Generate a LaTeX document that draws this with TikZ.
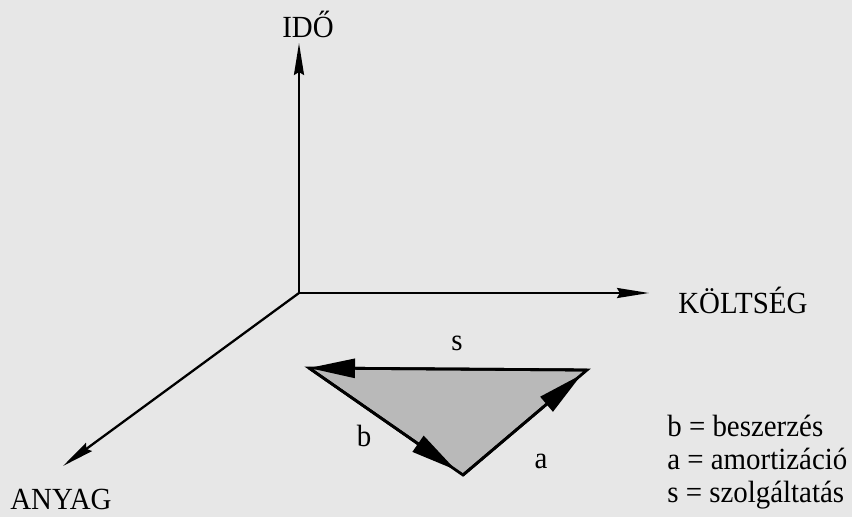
\documentclass[tikz,border=0pt]{standalone}
\usepackage{fontspec}
\setmainfont{Liberation Serif}[FakeStretch=0.94]
\usetikzlibrary{arrows.meta,positioning}
\definecolor{paper}{RGB}{231,231,231}
\definecolor{dotshade}{RGB}{185,185,185}
\tikzset{
  axisline/.style={line width=1.3pt,-{Stealth[length=0.64cm,width=0.2cm,inset=0.06cm]}},
  edgeline/.style={line width=1.6pt,line join=miter},
  edgearrow/.style={line width=1.6pt,-{Triangle[length=0.92cm,width=0.38cm]}},
  axislabel/.style={font=\fontsize{17.5}{21}\selectfont,inner sep=0pt},
  edgelabel/.style={font=\fontsize{17.5}{21}\selectfont,inner sep=0pt},
  legendline/.style={font=\fontsize{17.5}{21}\selectfont,inner sep=0pt,anchor=base west}
}

\begin{document}
\begin{tikzpicture}[x=0.02cm,y=-0.02cm]
  \fill[paper] (0,0) rectangle (852,517);
  \useasboundingbox (0,0) rectangle (852,517);
  % axes
  \coordinate (orig) at (299,293);
  \coordinate (idotip) at (299,43);
  \coordinate (koltip) at (649,293);
  \coordinate (anytip) at (63,466);
  \node[axislabel,anchor=base] (ido) at (308,38) {IDŐ};
  \node[axislabel,anchor=base west] (koltseg) at (678,313) {KÖLTSÉG};
  \node[axislabel,anchor=base west] (anyag) at (10,509) {ANYAG};
  \draw[axisline] (orig) -- (idotip);
  \draw[axisline] (orig) -- (koltip);
  \draw[axisline] (orig) -- (anytip);
  % triangle
  \coordinate (rv) at (587,370);
  \coordinate (lv) at (309,368);
  \coordinate (bv) at (463,475);
  \fill[dotshade] (rv) -- (lv) -- (bv) -- cycle;
  \draw[edgeline] (rv) -- (lv) -- (bv) -- cycle;
  \draw[edgearrow] (rv) -- (lv);
  \draw[edgearrow,shorten >=5pt] (lv) -- (bv);
  \draw[edgearrow,shorten >=4pt] (bv) -- (rv);
  \node[edgelabel] (slab) at (457,343) {s};
  \node[edgelabel] (blab) at (364,436) {b};
  \node[edgelabel] (alab) at (541,461) {a};
  % legend
  \node[legendline] (legb) at (667,436) {b = beszerzés};
  \node[legendline] (lega) at (667,469) {a = amortizáció};
  \node[legendline] (legs) at (667,502) {s = szolgáltatás};
\end{tikzpicture}
\end{document}
